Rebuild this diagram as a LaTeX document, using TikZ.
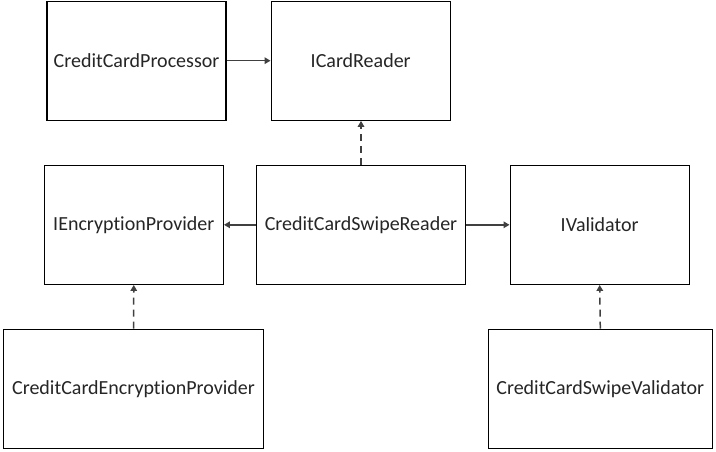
\documentclass[tikz,border=0pt]{standalone}
\usepackage{fontspec}
\setmainfont{Carlito}[Ligatures=NoCommon]
\usetikzlibrary{arrows.meta}
\begin{document}
\begin{tikzpicture}[x=1pt,y=-1pt,
  box/.style={draw=black,line width=1.3pt,fill=white,inner sep=0pt,text=black!85,font=\fontsize{20}{24}\selectfont},
  conn/.style={line width=1.5pt,draw=black!75,-{Triangle[length=6pt,width=6.5pt]}},
  dep/.style={conn,dash pattern=on 7pt off 5pt}]
\useasboundingbox (0,0) rectangle (716,451);
\node[box,minimum width=179pt,minimum height=119pt] (ccp) at (136.5,60.7) {CreditCardProcessor};
\node[box,minimum width=179pt,minimum height=119pt] (icr) at (360.7,60.7) {ICardReader};
\node[box,minimum width=179pt,minimum height=119pt] (iep) at (133.8,224.8) {IEncryptionProvider};
\node[box,minimum width=209pt,minimum height=119pt] (ccsr) at (361,224.8) {CreditCardSwipeReader};
\node[box,minimum width=179pt,minimum height=119pt] (ival) at (599.7,224.8) {IValidator};
\node[box,minimum width=260pt,minimum height=119pt] (ccep) at (133.5,388.7) {CreditCardEncryptionProvider};
\node[box,minimum width=224pt,minimum height=119pt] (ccsv) at (600.3,388.7) {CreditCardSwipeValidator};
\draw[conn] (ccp.east) -- (icr.west);
\draw[conn] (ccsr.west) -- (iep.east);
\draw[conn] (ccsr.east) -- (ival.west);
\draw[dep] (ccsr.north) -- (ccsr.north |- icr.south);
\draw[dep] (ccep.north) -- (iep.south);
\draw[dep] (ccsv.north) -- (ival.south);
\end{tikzpicture}
\end{document}
